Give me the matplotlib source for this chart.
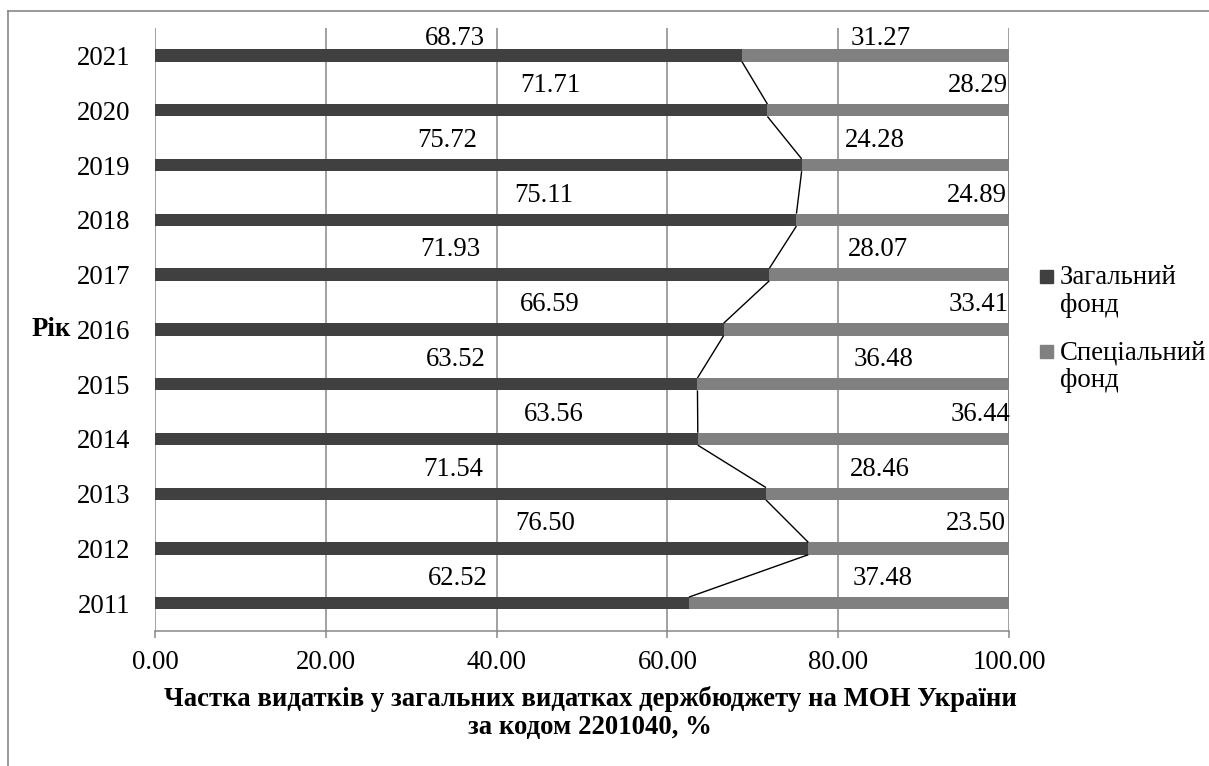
import matplotlib
matplotlib.use('Agg')
import matplotlib.pyplot as plt
from matplotlib.lines import Line2D
from matplotlib.patches import Rectangle
import numpy as np

plt.rcParams['font.family'] = 'serif'
plt.rcParams['font.serif'] = ['Liberation Serif', 'Times New Roman', 'DejaVu Serif']

# Data (share of expenditure, %)
years = ['2011', '2012', '2013', '2014', '2015', '2016',
         '2017', '2018', '2019', '2020', '2021']
general_fund = [62.52, 76.50, 71.54, 63.56, 63.52, 66.59, 71.93, 75.11, 75.72, 71.71, 68.73]
special_fund = [37.48, 23.50, 28.46, 36.44, 36.48, 33.41, 28.07, 24.89, 24.28, 28.29, 31.27]
series_names = [['Загальний', 'фонд'], ['Спеціальний', 'фонд']]
x_ticks = [0, 20, 40, 60, 80, 100]

# label positions along x (they were dragged by hand in the original chart)
general_label_x = [35.5, 45.7, 34.9, 46.7, 35.2, 46.2, 34.6, 45.5, 34.2, 46.3, 35.1]
special_label_x = [85.2, 96.1, 84.9, 96.7, 85.3, 96.5, 84.7, 96.2, 84.3, 96.4, 85.0]

c_general = '#404040'
c_special = '#808080'
c_grid = '#878787'
fs = 19.3

W, H = 1209, 766
fig = plt.figure(figsize=(W / 100, H / 100), dpi=100)
ax = fig.add_axes([155 / W, 1 - 630.7 / H, 854 / W, 602.6 / H])

y = np.arange(len(years))
bar_h = 0.226
ax.barh(y, general_fund, height=bar_h, color=c_general, zorder=2)
ax.barh(y, special_fund, left=general_fund, height=bar_h, color=c_special, zorder=2)

# series lines between neighbouring bars
cum = [np.array(general_fund), np.array(general_fund) + np.array(special_fund)]
for c in cum:
    for i in range(len(years) - 1):
        ax.plot([c[i], c[i + 1]], [i + bar_h / 2, i + 1 - bar_h / 2],
                color='black', lw=1.0, zorder=3, solid_capstyle='butt')

# data labels
for i in range(len(years)):
    ly = min(i + 0.45, len(years) - 1 + 0.31)
    ax.text(general_label_x[i], ly, f'{general_fund[i]:.2f}', ha='center', va='center',
            fontsize=fs, zorder=4)
    ax.text(special_label_x[i], ly, f'{special_fund[i]:.2f}', ha='center', va='center',
            fontsize=fs, zorder=4)

ax.set_xlim(0, 100)
ax.set_ylim(-0.5, len(years) - 0.5)
ax.set_xticks(x_ticks)
ax.set_xticklabels([f'{v:.2f}' for v in x_ticks], fontsize=fs)
ax.set_yticks(y)
ax.set_yticklabels(years, fontsize=fs)
ax.tick_params(axis='y', length=0, pad=18)
ax.tick_params(axis='x', length=5, width=1.1, color=c_grid, direction='out', pad=9)

ax.xaxis.grid(True, color=c_grid, lw=1.1, zorder=0)
ax.set_axisbelow(True)
for s in ['top', 'right', 'left']:
    ax.spines[s].set_visible(False)
ax.spines['bottom'].set_color(c_grid)
ax.spines['bottom'].set_linewidth(1.1)

ax.set_xlabel('Частка видатків у загальних видатках держбюджету на МОН України\nза кодом 2201040, %',
              fontsize=fs, fontweight='bold', linespacing=1.15)
ax.xaxis.set_label_coords((590 - 155) / 854, -(713 - 630.7) / 602.6)
ax.xaxis.label.set_va('center')
ax.set_ylabel('Рік', rotation=0, fontsize=fs, fontweight='bold')
ax.yaxis.set_label_coords((51 - 155) / 854, (630.7 - 330) / 602.6)
ax.yaxis.label.set_va('center')
ax.yaxis.label.set_ha('center')

# legend drawn by hand so the marker sits at the first line
for k, (lines, col) in enumerate(zip(series_names, [c_general, c_special])):
    top = 270 + k * 75
    fig.add_artist(Rectangle((1040 / W, 1 - (top + 13) / H), 13 / W, 13 / H,
                             transform=fig.transFigure, color=col))
    for j, line in enumerate(lines):
        fig.text(1060 / W, 1 - (top + 14 + j * 28) / H, line, fontsize=fs,
                 va='baseline', ha='left')

# outer chart border (cut by the image edge on the right and bottom)
fig.add_artist(Line2D([8 / W, 1], [1 - 11 / H, 1 - 11 / H], color=c_grid, lw=1.2,
                      transform=fig.transFigure))
fig.add_artist(Line2D([8 / W, 8 / W], [0, 1 - 11 / H], color=c_grid, lw=1.2,
                      transform=fig.transFigure))

fig.savefig('out.png', dpi=100)
